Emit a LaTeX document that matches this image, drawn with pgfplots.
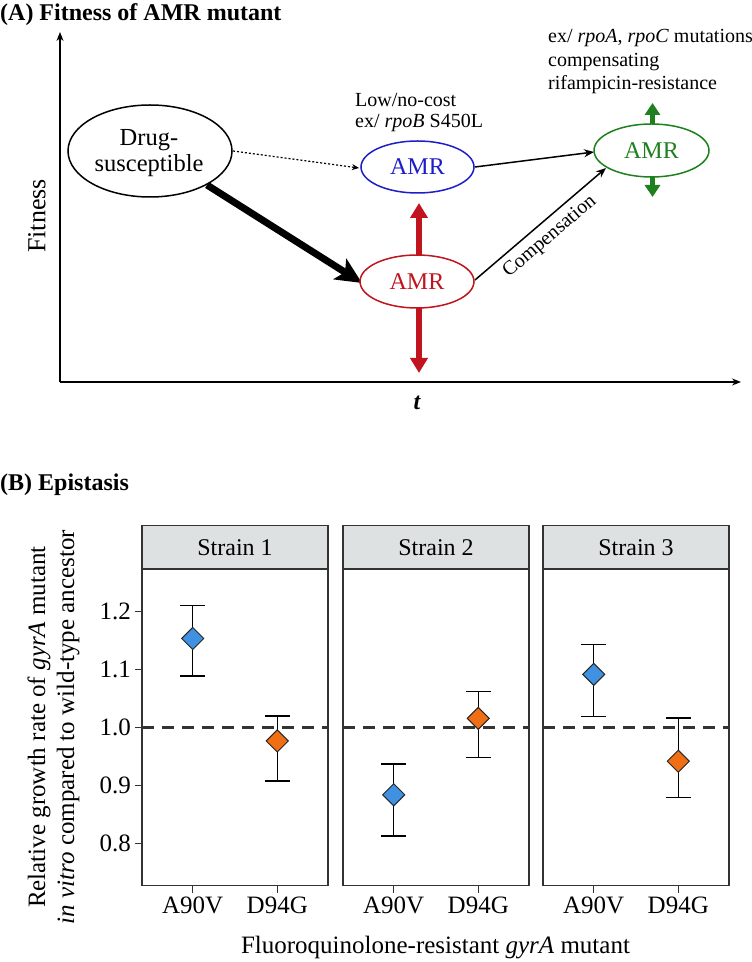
\documentclass[border=0pt]{standalone}
\usepackage{pgfplots}
\pgfplotsset{compat=1.18}
\usepackage{pgfplotstable}
\usetikzlibrary{arrows.meta}
\usepackage{fontspec}
\setmainfont{Liberation Serif}
\definecolor{amrblue}{RGB}{30,30,200}
\definecolor{amrred}{RGB}{192,20,30}
\definecolor{amrgreen}{RGB}{30,128,30}
\definecolor{ptblue}{RGB}{64,145,225}
\definecolor{ptorange}{RGB}{240,110,20}
\definecolor{stripgray}{RGB}{221,225,225}
\definecolor{framegray}{RGB}{51,51,51}
\newcommand{\fs}[2]{\fontsize{#1}{#2}\selectfont}

% x  y  plus  minus
\pgfplotstableread{
x y ep em
1 1.154 0.057 0.065
2 0.977 0.043 0.069
}\strainA
\pgfplotstableread{
x y ep em
1 0.884 0.053 0.071
2 1.016 0.046 0.068
}\strainB
\pgfplotstableread{
x y ep em
1 1.092 0.052 0.073
2 0.942 0.075 0.063
}\strainC

\pgfplotsset{
  strain/.style={
    anchor=south west,
    scale only axis, width=186pt, height=316.7pt,
    xmin=0.4, xmax=2.6, ymin=0.727, ymax=1.274,
    xtick={1,2}, xticklabels={A90V,D94G},
    tick align=outside, tick pos=left,
    major tick length=7.5pt,
    tick style={line width=1.3pt, framegray},
    axis line style={line width=1.3pt, framegray},
    ticklabel style={font=\fs{25}{30}},
    /pgf/number format/assume math mode=true,
    clip=false,
  },
  ebars/.style={only marks, mark=none,
    error bars/.cd, y dir=both, y explicit,
    error mark=|,
    error bar style={line width=1.5pt, black},
    error mark options={line width=1.5pt, black, mark size=12.5pt}},
  dia/.style={only marks, mark=square*, mark size=7.8pt,
    mark options={rotate=45, fill=#1, draw=black!85, line width=1pt}},
  hline/.style={dash pattern=on 12pt off 8pt, line width=3pt, framegray},
}

\begin{document}
\begin{tikzpicture}
\useasboundingbox (0pt,0pt) rectangle (752pt,962pt);

% ---------------- Panel A ----------------
\begin{axis}[
  at={(60pt,580pt)}, anchor=south west,
  scale only axis, width=681pt, height=350pt,
  xmin=60, xmax=741, ymin=580, ymax=930,
  axis lines=left,
  axis line style={line width=1.3pt, black, -{Stealth[length=9pt,width=7pt]}},
  xtick=\empty, ytick=\empty,
  clip=false,
]
% red double arrow (behind ellipse)
\addplot[amrred, line width=6pt, {Triangle[length=15pt,width=17pt]}-{Triangle[length=15pt,width=17pt]}] coordinates {(419,759) (419,589)};
% green arrows
\addplot[amrgreen, line width=5pt, -{Triangle[length=12pt,width=15pt]}] coordinates {(652.5,836) (652.5,859)};
\addplot[amrgreen, line width=5pt, -{Triangle[length=12pt,width=15pt]}] coordinates {(652.5,787) (652.5,765)};
% dotted arrow
\addplot[black, line width=1.2pt, dash pattern=on 2pt off 2pt, -{Stealth[length=7pt,width=6pt]}] coordinates {(233,811) (359,794)};
% thick arrow
\addplot[black, line width=7pt, -{Stealth[length=26pt,width=24pt,inset=6pt]}] coordinates {(207,777) (362,679)};
% thin arrows
\addplot[black, line width=1.5pt, -{Stealth[length=10pt,width=8pt]}] coordinates {(475,795) (594,810)};
\addplot[black, line width=1.5pt, -{Stealth[length=10pt,width=8pt]}] coordinates {(475,682) (606,794)};

% ellipses
\draw[black, line width=1.5pt, fill=white] (axis cs:150,811) ellipse [x radius=82pt, y radius=46pt];
\node[align=center, font=\fs{24.5}{25.5}] at (axis cs:149,809) {Drug-\\susceptible};
\draw[amrblue, line width=1.5pt, fill=white] (axis cs:417.5,795) ellipse [x radius=56.5pt, y radius=26pt];
\node[amrblue, font=\fs{24}{28}] at (axis cs:417.5,795) {AMR};
\draw[amrred, line width=1.5pt, fill=white] (axis cs:417,680.5) ellipse [x radius=57pt, y radius=26.5pt];
\node[amrred, font=\fs{24}{28}] at (axis cs:417,680.5) {AMR};
\draw[amrgreen, line width=1.5pt, fill=white] (axis cs:651.5,811.5) ellipse [x radius=57.5pt, y radius=26.5pt];
\node[amrgreen, font=\fs{24}{28}] at (axis cs:651.5,811.5) {AMR};

% texts
\node[rotate=40.5, inner sep=0pt, font=\fs{20}{24}] at (axis cs:550,725) {Compensation};
\node[anchor=west, inner sep=0pt, font=\fs{20}{24}] at (axis cs:355,862) {Low/no-cost};
\node[anchor=west, inner sep=0pt, font=\fs{20}{24}] at (axis cs:355,839) {ex/ \textit{rpoB} S450L};
\node[anchor=west, inner sep=0pt, font=\fs{20}{24}] at (axis cs:548,924) {ex/ \textit{rpoA}, \textit{rpoC} mutations};
\node[anchor=west, inner sep=0pt, font=\fs{20}{24}] at (axis cs:548,900) {compensating};
\node[anchor=west, inner sep=0pt, font=\fs{20}{24}] at (axis cs:548,877) {rifampicin-resistance};
\node[anchor=west, inner sep=0pt, font=\bfseries\fs{24}{28}] at (axis cs:0,947) {(A) Fitness of AMR mutant};
\node[rotate=90, font=\fs{26}{30}] at (axis cs:37,746) {Fitness};
\node[font=\bfseries\itshape\fs{24}{28}] at (axis cs:417,559) {t};
\end{axis}

% ---------------- Panel B ----------------
\node[anchor=west, inner sep=0pt, font=\bfseries\fs{24}{28}] at (0pt,477pt) {(B) Epistasis};

\begin{axis}[strain, at={(142pt,76.3pt)},
  ytick={0.8,0.9,1.0,1.1,1.2}, yticklabels={0.8,0.9,1.0,1.1,1.2}]
\addplot[hline] coordinates {(0.4,1) (2.6,1)};
\addplot[ebars] table[x=x, y=y, y error plus=ep, y error minus=em] {\strainA};
\addplot[dia=ptblue] coordinates {(1,1.154)};
\addplot[dia=ptorange] coordinates {(2,0.977)};
\draw[line width=1.3pt, framegray, fill=stripgray] (rel axis cs:0,1) rectangle ([yshift=43.3pt]rel axis cs:1,1);
\node[font=\fs{24}{28}] at ([yshift=21.65pt]rel axis cs:0.5,1) {Strain 1};
\end{axis}

\begin{axis}[strain, at={(343pt,76.3pt)}, ytick=\empty]
\addplot[hline] coordinates {(0.4,1) (2.6,1)};
\addplot[ebars] table[x=x, y=y, y error plus=ep, y error minus=em] {\strainB};
\addplot[dia=ptblue] coordinates {(1,0.884)};
\addplot[dia=ptorange] coordinates {(2,1.016)};
\draw[line width=1.3pt, framegray, fill=stripgray] (rel axis cs:0,1) rectangle ([yshift=43.3pt]rel axis cs:1,1);
\node[font=\fs{24}{28}] at ([yshift=21.65pt]rel axis cs:0.5,1) {Strain 2};
\end{axis}

\begin{axis}[strain, at={(543pt,76.3pt)}, ytick=\empty]
\addplot[hline] coordinates {(0.4,1) (2.6,1)};
\addplot[ebars] table[x=x, y=y, y error plus=ep, y error minus=em] {\strainC};
\addplot[dia=ptblue] coordinates {(1,1.092)};
\addplot[dia=ptorange] coordinates {(2,0.942)};
\draw[line width=1.3pt, framegray, fill=stripgray] (rel axis cs:0,1) rectangle ([yshift=43.3pt]rel axis cs:1,1);
\node[font=\fs{24}{28}] at ([yshift=21.65pt]rel axis cs:0.5,1) {Strain 3};
\end{axis}

\node[rotate=90, align=center, font=\fs{25}{29}] at (53.5pt,235pt) {Relative growth rate of \textit{gyrA} mutant\\\textit{in vitro} compared to wild-type ancestor};
\node[font=\fs{25}{30}] at (435.5pt,14pt) {Fluoroquinolone-resistant \textit{gyrA} mutant};
\end{tikzpicture}
\end{document}
